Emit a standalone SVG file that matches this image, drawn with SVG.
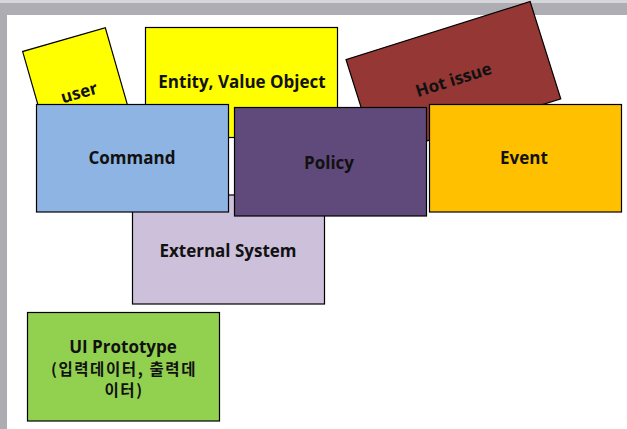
<svg xmlns="http://www.w3.org/2000/svg" width="627" height="429" viewBox="0 0 627 429">
<style>
.n{stroke:#000;stroke-width:1.2}
.t{font-family:"Open Sans","Noto Sans CJK KR",sans-serif;font-weight:bold;font-size:17px;fill:#111;text-anchor:middle;dominant-baseline:central}
.k{font-family:"Noto Sans CJK KR","Open Sans",sans-serif;font-size:15.5px;letter-spacing:1.6px}
</style>
<rect x="0" y="0" width="627" height="429" fill="#ffffff"/>
<rect x="0" y="0" width="627" height="15" fill="#adadb3"/>
<rect x="0" y="0" width="627" height="3" fill="#d6d6da"/>
<rect x="0" y="15" width="7" height="414" fill="#acacb2"/>
<g id="user">
<rect class="n" x="-43" y="-54.5" width="86" height="109" fill="#ffff00" transform="translate(79,92) rotate(-16)"/>
<text class="t" transform="translate(79,92) rotate(-16)" x="0" y="0">user</text>
</g>
<g id="entity">
<rect class="n" x="145.5" y="27.5" width="192" height="110" fill="#ffff00"/>
<text class="t" x="242" y="81">Entity, Value Object</text>
</g>
<g id="hotissue">
<rect class="n" x="-96.5" y="-51" width="193" height="102" fill="#953735" transform="translate(453.4,79.2) rotate(-17.5)"/>
<text class="t" transform="translate(453.4,79.2) rotate(-17.5)" x="0" y="0">Hot issue</text>
</g>
<g id="external">
<rect class="n" x="132.5" y="195" width="192" height="109" fill="#ccc0da"/>
<text class="t" x="228" y="250">External System</text>
</g>
<g id="command">
<rect class="n" x="36.5" y="104.5" width="192" height="107.5" fill="#8eb4e3"/>
<text class="t" x="132" y="157">Command</text>
</g>
<g id="policy">
<rect class="n" x="234.5" y="107.5" width="192" height="108.5" fill="#604a7b"/>
<text class="t" x="329" y="162">Policy</text>
</g>
<g id="event">
<rect class="n" x="429.5" y="104.5" width="192" height="107.5" fill="#ffc000"/>
<text class="t" x="524" y="157">Event</text>
</g>
<g id="ui">
<rect class="n" x="27.5" y="312.5" width="192" height="108.5" fill="#92d050"/>
<text class="t" x="123" y="346">UI Prototype</text>
<text class="t k" x="124" y="367.5">(입력데이터, 출력데</text>
<text class="t k" x="124" y="388.5">이터)</text>
</g>
<g id="connectors"></g>
</svg>
